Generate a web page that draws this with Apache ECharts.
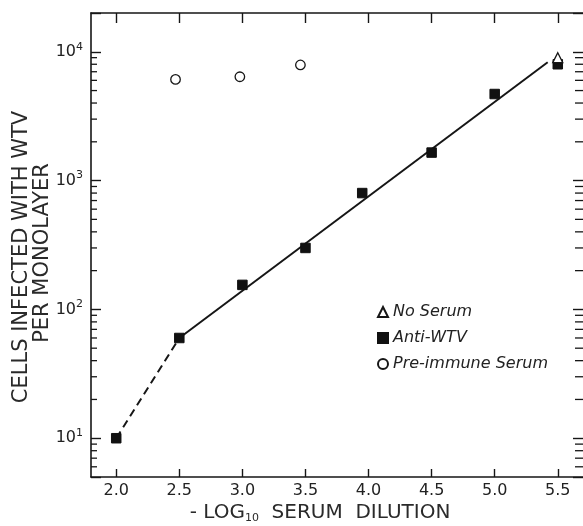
<!DOCTYPE html>
<html>
<head>
<meta charset="utf-8">
<script src="https://cdn.jsdelivr.net/npm/echarts@6/dist/echarts.min.js"></script>
<style>
  html, body { margin: 0; padding: 0; background: #fff; }
  #main { width: 583px; height: 526px; }
</style>
</head>
<body>
<div id="main"></div>
<script>
// axis ranges / ticks
var xMin = 1.8, xMax = 5.7;
var yMin = 5, yMax = 20000;
var xTicks = [2.0, 2.5, 3.0, 3.5, 4.0, 4.5, 5.0, 5.5];
var yMinor = [6, 7, 8, 9, 20, 30, 40, 50, 60, 70, 80, 90,
              200, 300, 400, 500, 600, 700, 800, 900,
              2000, 3000, 4000, 5000, 6000, 7000, 8000, 9000];

// data
var antiX = [2.0, 2.5, 3.0, 3.5, 3.95, 4.5, 5.0, 5.5];
var antiY = [10, 60, 155, 300, 800, 1650, 4700, 8000];
var preX = [2.47, 2.98, 3.46];
var preY = [6100, 6400, 7900];
var noSerumX = [5.5];
var noSerumY = [9000];
// fitted line (solid) and dashed start
var fitX = [2.5, 5.42];
var fitY = [60, 8300];
var dashX = [2.0, 2.5];
var dashY = [10, 60];

var ink = '#161616';
var font = 'DejaVu Sans';

function pairs(xs, ys) {
    var res = [];
    for (var i = 0; i < xs.length; i++) {
        res.push([xs[i], ys[i]]);
    }
    return res;
}

var myChart = echarts.init(document.getElementById('main'));

var option = {
    backgroundColor: '#fff',
    animation: false,
    grid: { left: 91, right: -2, top: 13, bottom: 49 },
    legend: {
        orient: 'vertical',
        left: 372,
        top: 299,
        itemGap: 10,
        itemWidth: 10,
        itemHeight: 10,
        data: ['No Serum', 'Anti-WTV', 'Pre-immune Serum'],
        textStyle: { fontStyle: 'italic', fontSize: 16, fontFamily: font, color: '#222' }
    },
    xAxis: [{
        type: 'value', position: 'bottom', min: xMin, max: xMax,
        splitLine: { show: false },
        axisLine: { lineStyle: { color: ink, width: 1.6 } },
        axisTick: { inside: true, length: 8, customValues: xTicks, lineStyle: { color: ink, width: 1.4 } },
        axisLabel: {
            customValues: xTicks, margin: 6, fontSize: 16, fontFamily: font, color: '#222',
            formatter: function (v) { return v.toFixed(1); }
        }
    }, {
        type: 'value', position: 'top', min: xMin, max: xMax,
        splitLine: { show: false },
        axisLine: { lineStyle: { color: ink, width: 1.6 } },
        axisTick: { inside: true, length: 10, customValues: xTicks, lineStyle: { color: ink, width: 1.4 } },
        axisLabel: { show: false }
    }],
    yAxis: [{
        type: 'log', logBase: 10, position: 'left', min: yMin, max: yMax,
        splitLine: { show: false },
        axisLine: { lineStyle: { color: ink, width: 1.6 } },
        axisTick: { inside: true, length: 10, lineStyle: { color: ink, width: 1.4 } },
        axisLabel: {
            margin: 8, fontSize: 16, fontFamily: font, color: '#222',
            formatter: function (v) {
                var e = Math.log10(v);
                if (Math.abs(e - Math.round(e)) > 1e-6) return '';
                return '10{sup|' + Math.round(e) + '}';
            },
            rich: { sup: { fontSize: 11, fontFamily: font, color: '#222', padding: [0, 0, 10, 0] } }
        }
    }, {
        type: 'log', logBase: 10, position: 'right', min: yMin, max: yMax,
        splitLine: { show: false },
        axisLine: { show: false },
        axisTick: { inside: true, length: 10, lineStyle: { color: ink, width: 1.4 } },
        axisLabel: { show: false }
    }],
    graphic: [{
        type: 'text', x: 22, y: 257, rotation: Math.PI / 2,
        style: { text: 'CELLS INFECTED WITH WTV', fontSize: 21, fontFamily: font, fill: '#2a2a2a', align: 'center', verticalAlign: 'middle' }
    }, {
        type: 'text', x: 43, y: 253, rotation: Math.PI / 2,
        style: { text: 'PER MONOLAYER', fontSize: 21, fontFamily: font, fill: '#2a2a2a', align: 'center', verticalAlign: 'middle' }
    }, {
        type: 'text', x: 320, y: 513,
        style: {
            text: '- LOG{sub|10}  SERUM  DILUTION', fontSize: 20, fontFamily: font, fill: '#2a2a2a',
            align: 'center', verticalAlign: 'middle',
            rich: { sub: { fontSize: 11, fontFamily: font, fill: '#2a2a2a', padding: [10, 0, 0, 0] } }
        }
    }],
    series: [{
        // log minor ticks on both sides
        name: 'minorTicks', type: 'custom', silent: true, clip: false,
        xAxisIndex: 0, yAxisIndex: 0,
        data: yMinor.map(function (v) { return [xMin, v]; }),
        renderItem: function (params, api) {
            var v = api.value(1);
            var l = api.coord([xMin, v]);
            var r = api.coord([xMax, v]);
            var st = { stroke: ink, lineWidth: 1.3 };
            return {
                type: 'group', children: [
                    { type: 'line', shape: { x1: l[0], y1: l[1], x2: l[0] + 6, y2: l[1] }, style: st },
                    { type: 'line', shape: { x1: r[0], y1: r[1], x2: r[0] - 8, y2: r[1] }, style: st }
                ]
            };
        }
    }, {
        name: 'dash', type: 'line', data: pairs(dashX, dashY), symbol: 'none', z: 2,
        lineStyle: { color: ink, width: 2, type: [8, 5] }
    }, {
        name: 'fit', type: 'line', data: pairs(fitX, fitY), symbol: 'none', z: 2,
        lineStyle: { color: ink, width: 2 }
    }, {
        name: 'No Serum', type: 'scatter', data: pairs(noSerumX, noSerumY), z: 4,
        symbol: 'triangle', symbolSize: 10,
        itemStyle: { color: '#fff', borderColor: ink, borderWidth: 1.3, opacity: 1 }
    }, {
        name: 'Anti-WTV', type: 'scatter', data: pairs(antiX, antiY), z: 3,
        symbol: 'rect', symbolSize: 9.5,
        itemStyle: { color: '#111', borderColor: '#111', borderWidth: 1, opacity: 1 }
    }, {
        name: 'Pre-immune Serum', type: 'scatter', data: pairs(preX, preY), z: 3,
        symbol: 'circle', symbolSize: 9.5,
        itemStyle: { color: '#fff', borderColor: ink, borderWidth: 1.3, opacity: 1 }
    }]
};

if (option && typeof option === "object") {
    myChart.setOption(option, true);
}
</script>
</body>
</html>
